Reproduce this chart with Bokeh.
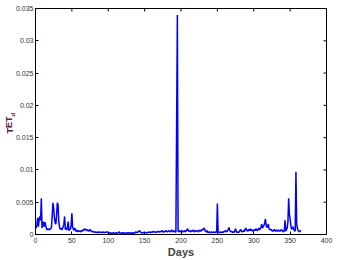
from bokeh.plotting import figure
from bokeh.models import LinearAxis, FixedTicker, Range1d, Label, ColumnDataSource
from bokeh.embed import file_html
from bokeh.resources import INLINE

x_ticks = [0, 50, 100, 150, 200, 250, 300, 350, 400]
y_ticks = [0, 0.005, 0.01, 0.015, 0.02, 0.025, 0.03, 0.035]
y_tick_labels = ["0", "0.005", "0.01", "0.015", "0.02", "0.025", "0.03", "0.035"]

days = list(range(1, 366))
tet_d = [
    .0010, .0016, .0026, .0012, .0024, .0028, .0022, .0056, .0010, .0020,
    .0018, .0012, .0019, .0014, .0009, .0007, .0009, .0008, .0007, .0009,
    .0009, .0012, .0030, .0049, .0040, .0026, .0018, .0016, .0030, .0049,
    .0046, .0020, .0012, .0008, .0010, .0007, .0009, .0012, .0016, .0028,
    .0008, .0010, .0007, .0012, .0020, .0006, .0009, .0008, .0014, .0033,
    .0012, .0008, .0007, .0010, .0006, .0005, .0007, .0004, .0006, .0005,
    .0005, .0004, .0006, .0005, .0007, .0006, .0009, .0008, .0007, .0008,
    .0006, .0007, .0005, .0006, .0008, .0006, .0005, .0004, .0005, .0004,
    .0004, .0003, .0004, .0003, .0003, .0004, .0003, .0003, .0004, .0003,
    .0003, .0003, .0004, .0003, .0003, .0003, .0004, .0004, .0003, .0003,
    .0002, .0002, .0003, .0002, .0002, .0002, .0003, .0002, .0002, .0002,
    .0003, .0002, .0002, .0003, .0004, .0002, .0002, .0002, .0003, .0002,
    .0002, .0003, .0002, .0002, .0002, .0003, .0002, .0003, .0002, .0002,
    .0003, .0002, .0002, .0003, .0002, .0002, .0003, .0004, .0003, .0003,
    .0004, .0005, .0006, .0004, .0003, .0003, .0002, .0003, .0003, .0002,
    .0003, .0003, .0002, .0003, .0003, .0004, .0003, .0003, .0004, .0003,
    .0004, .0005, .0004, .0004, .0003, .0004, .0004, .0005, .0004, .0004,
    .0005, .0004, .0005, .0006, .0004, .0004, .0005, .0004, .0006, .0005,
    .0004, .0005, .0006, .0005, .0004, .0005, .0007, .0005, .0004, .0006,
    .0005, .0004, .0004, .0175, .0340, .0005, .0004, .0006, .0004, .0005,
    .0006, .0005, .0004, .0005, .0006, .0004, .0005, .0007, .0009, .0006,
    .0005, .0006, .0004, .0005, .0006, .0005, .0007, .0005, .0004, .0006,
    .0005, .0006, .0005, .0004, .0006, .0007, .0005, .0006, .0008, .0007,
    .0009, .0010, .0006, .0005, .0004, .0006, .0003, .0003, .0004, .0003,
    .0003, .0004, .0003, .0003, .0004, .0003, .0003, .0004, .0003, .0048,
    .0004, .0003, .0003, .0004, .0003, .0003, .0004, .0003, .0005, .0004,
    .0006, .0005, .0004, .0006, .0008, .0011, .0006, .0005, .0004, .0005,
    .0003, .0004, .0003, .0006, .0009, .0005, .0003, .0004, .0003, .0004,
    .0006, .0008, .0005, .0004, .0005, .0006, .0004, .0008, .0010, .0007,
    .0006, .0005, .0008, .0007, .0006, .0009, .0006, .0007, .0005, .0006,
    .0008, .0006, .0009, .0007, .0006, .0008, .0010, .0007, .0009, .0012,
    .0016, .0010, .0012, .0014, .0018, .0024, .0015, .0011, .0012, .0016,
    .0009, .0008, .0007, .0008, .0006, .0005, .0006, .0008, .0006, .0005,
    .0007, .0006, .0005, .0007, .0006, .0005, .0006, .0008, .0006, .0005,
    .0004, .0006, .0022, .0005, .0008, .0010, .0020, .0056, .0031, .0024,
    .0014, .0008, .0010, .0012, .0008, .0006, .0005, .0097, .0016, .0010,
    .0006, .0005, .0004, .0006, .0005,
]

src = ColumnDataSource(data=dict(day=days, tet=tet_d))

x_min, x_max = 0, 400
y_min, y_max = 0, 0.035

p = figure(width=337, height=260, output_backend="svg", toolbar_location=None,
           x_range=Range1d(x_min, x_max), y_range=Range1d(y_min, y_max),
           x_axis_location=None, y_axis_location=None)
p.min_border_left = 35
p.min_border_right = 11
p.min_border_top = 8
p.min_border_bottom = 25
p.background_fill_color = "white"
p.border_fill_color = "white"
p.outline_line_color = "black"
p.outline_line_width = 1
p.xgrid.visible = False
p.ygrid.visible = False

p.line("day", "tet", source=src, line_color="#0000ff", line_width=1.5)

# inward tick marks on the top and right edges of the box
p.scatter(x=x_ticks, y=[y_max] * len(x_ticks), marker="dash", size=6,
          angle=1.5708, line_color="black", line_width=1)
p.scatter(x=[x_max] * len(y_ticks), y=y_ticks, marker="dash", size=6,
          line_color="black", line_width=1)

label_font = "Liberation Sans"

xb = LinearAxis(ticker=FixedTicker(ticks=x_ticks), axis_label="Days")
xb.major_tick_in = 3
xb.major_tick_out = 0
xb.minor_tick_in = 0
xb.minor_tick_out = 0
xb.major_label_text_font = label_font
xb.major_label_text_font_size = "7px"
xb.major_label_text_color = "#333333"
xb.major_label_standoff = 3
xb.axis_label_text_font = label_font
xb.axis_label_text_font_style = "bold"
xb.axis_label_text_font_size = "11px"
xb.axis_label_standoff = 0
xb.axis_line_color = "black"
p.add_layout(xb, "below")

yl = LinearAxis(ticker=FixedTicker(ticks=y_ticks))
yl.major_label_overrides = {t: s for t, s in zip(y_ticks, y_tick_labels)}
yl.major_tick_in = 3
yl.major_tick_out = 0
yl.minor_tick_in = 0
yl.minor_tick_out = 0
yl.major_label_text_font = label_font
yl.major_label_text_font_size = "7px"
yl.major_label_text_color = "#333333"
yl.major_label_standoff = 2
yl.axis_line_color = "black"
p.add_layout(yl, "left")

# y-axis title "TET" (left side panel) with subscript "d" (top side panel)
ylab = Label(x=7, y=101, x_units="screen", y_units="screen", text="TET",
             angle=1.5708, text_align="left", text_baseline="middle",
             text_font=label_font, text_font_style="bold",
             text_font_size="9px", text_color="#5c1a4a")
p.add_layout(ylab, "left")
sub = Label(x=-22.5, y=-108, x_units="screen", y_units="screen", text="d",
            angle=1.5708, text_align="left", text_baseline="middle",
            text_font=label_font, text_font_style="bold",
            text_font_size="6px", text_color="#5c1a4a")
p.add_layout(sub, "above")

open("out.html", "w").write(file_html(p, INLINE))
